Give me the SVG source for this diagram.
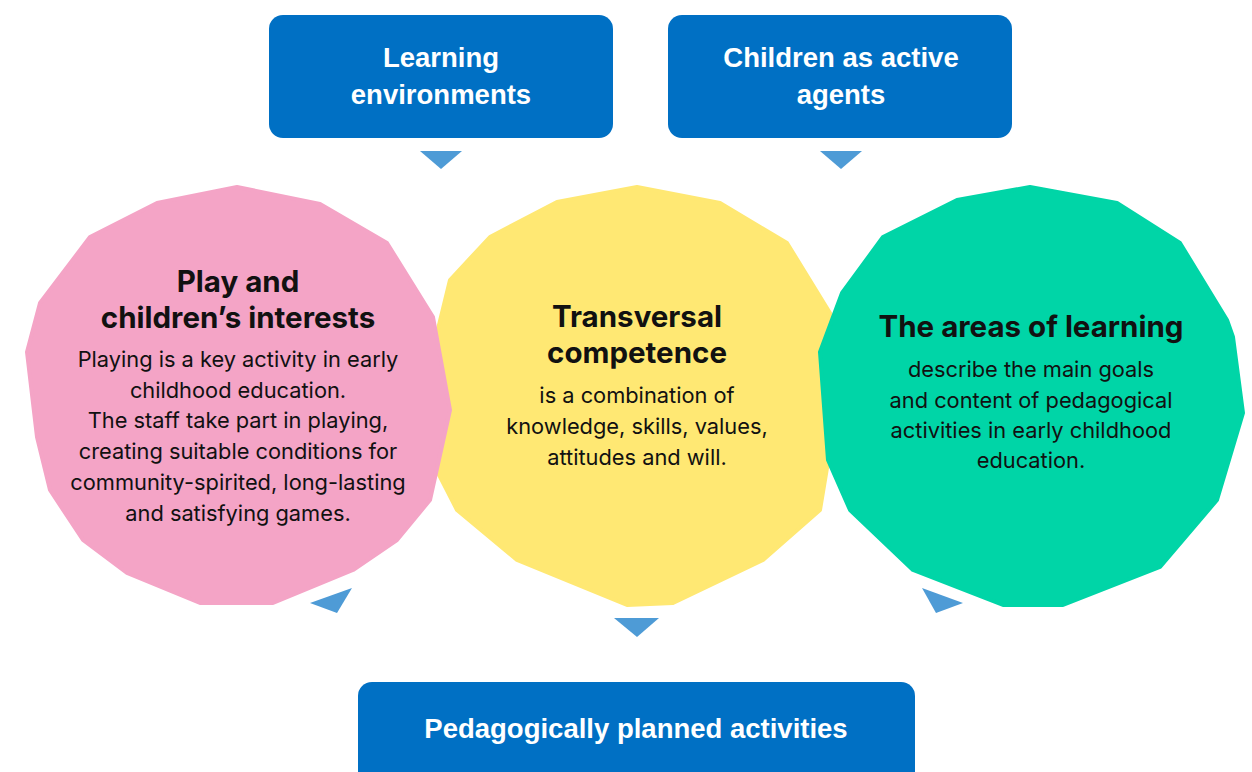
<svg xmlns="http://www.w3.org/2000/svg" width="1252" height="772" viewBox="0 0 1252 772">
<style>
.box{fill:#0070C4}
.boxt{font-family:"Liberation Sans",Arial,sans-serif;font-weight:bold;font-size:27.5px;fill:#fff;text-anchor:middle}
.ttl{font-family:Inter,"Liberation Sans",sans-serif;font-weight:bold;font-size:29.5px;fill:#111;text-anchor:middle}
.bd{font-family:Inter,"Liberation Sans",sans-serif;font-size:21.8px;fill:#111;text-anchor:middle}
.arr{fill:#4E9BD6}
.pink{fill:#F4A4C6;stroke:#F4A4C6;stroke-width:4;stroke-linejoin:round}
.yel{fill:#FFE873;stroke:#FFE873;stroke-width:4;stroke-linejoin:round}
.grn{fill:#00D5A7;stroke:#00D5A7;stroke-width:4;stroke-linejoin:round}
</style>
<g id="node-transversal">
<polygon class="yel" points="637,187 720,203 787,243 830,313 838,360 835,420 820,510 763,560 673,603 627,605 517,560 457,510 433,463 428,370 450,280 490,237 557,202"/>
<text class="ttl" x="637" y="327">Transversal</text>
<text class="ttl" x="637" y="363">competence</text>
<text class="bd" x="637" y="403">is a combination of</text>
<text class="bd" x="637" y="434">knowledge, skills, values,</text>
<text class="bd" x="637" y="465">attitudes and will.</text>
</g>
<g id="node-play">
<polygon class="pink" points="237,187 320,204 387,243 433,317 450,410 430,500 397,540 353,570 273,603 200,603 127,573 83,540 50,490 37,437 27,352 40,303 90,237 157,203"/>
<text class="ttl" x="238" y="292">Play and</text>
<text class="ttl" x="238" y="328">children’s interests</text>
<text class="bd" x="238" y="367">Playing is a key activity in early</text>
<text class="bd" x="238" y="398">childhood education.</text>
<text class="bd" x="238" y="428">The staff take part in playing,</text>
<text class="bd" x="238" y="459">creating suitable conditions for</text>
<text class="bd" x="238" y="490">community-spirited, long-lasting</text>
<text class="bd" x="238" y="521">and satisfying games.</text>
</g>
<g id="node-areas">
<polygon class="grn" points="1030,187 1117,203 1180,243 1227,320 1233,337 1243,413 1217,500 1160,567 1063,605 1003,605 913,570 850,510 828,460 820,352 842,293 883,237 957,200"/>
<text class="ttl" x="1031" y="337">The areas of learning</text>
<text class="bd" x="1031" y="377">describe the main goals</text>
<text class="bd" x="1031" y="408">and content of pedagogical</text>
<text class="bd" x="1031" y="438">activities in early childhood</text>
<text class="bd" x="1031" y="468">education.</text>
</g>
<g id="node-learning-env">
<rect class="box" x="269" y="15" width="344" height="123" rx="14"/>
<text class="boxt" x="441" y="67">Learning</text>
<text class="boxt" x="441" y="104">environments</text>
</g>
<g id="node-children">
<rect class="box" x="668" y="15" width="344" height="123" rx="14"/>
<text class="boxt" x="841" y="67">Children as active</text>
<text class="boxt" x="841" y="104">agents</text>
</g>
<g id="node-planned">
<rect class="box" x="358" y="682" width="557" height="110" rx="14"/>
<text class="boxt" x="636" y="738">Pedagogically planned activities</text>
</g>
<g id="connectors">
<polygon class="arr" points="420,151 462,151 441,169"/>
<polygon class="arr" points="820,151 862,151 841,169"/>
<polygon class="arr" points="614,618 659,618 637,637"/>
<polygon class="arr" points="310,603 352,588 337,613"/>
<polygon class="arr" points="922,588 963,603 936,613"/>
</g>
</svg>
